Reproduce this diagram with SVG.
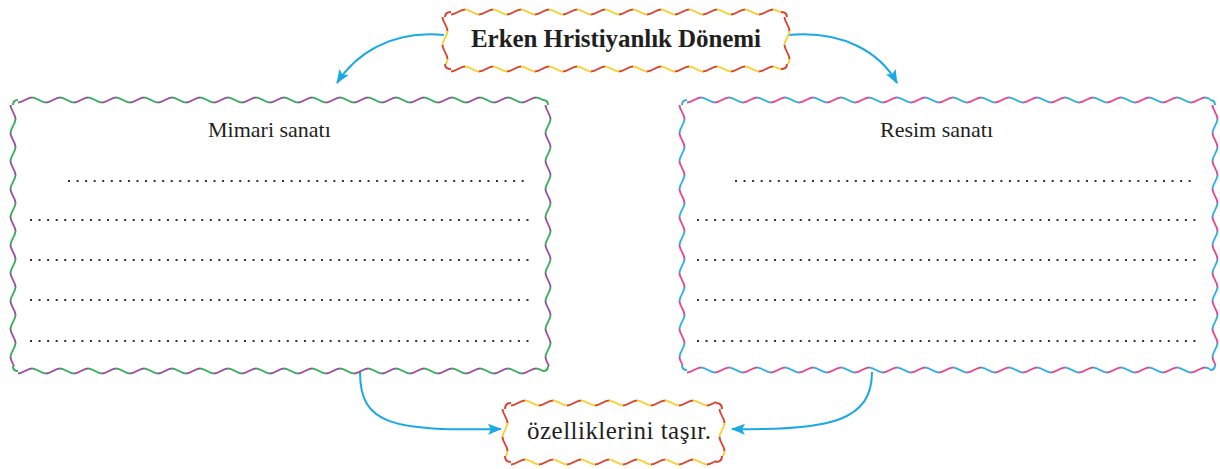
<svg xmlns="http://www.w3.org/2000/svg" width="1220" height="469" viewBox="0 0 1220 469">
<style>
.lbl{fill:#231f20}
.dots{stroke:#333;stroke-width:2;stroke-dasharray:2 6.56;fill:none}
.conn{stroke:#1ba9e6;stroke-width:2;fill:none;marker-end:url(#ah)}
.w{stroke-width:2;fill:none}
</style>
<defs>
<pattern id="pGP" patternUnits="userSpaceOnUse" width="28" height="10">
<path class="w" d="M0 7.5 C5 7.5 9 2.5 14 2.5" stroke="#9a4fa3"/>
<path class="w" d="M14 2.5 C19 2.5 23 7.5 28 7.5" stroke="#3aac5c"/>
</pattern>
<pattern id="pPB" patternUnits="userSpaceOnUse" width="28" height="10">
<path class="w" d="M0 7.5 C5 7.5 9 2.5 14 2.5" stroke="#e4468f"/>
<path class="w" d="M14 2.5 C19 2.5 23 7.5 28 7.5" stroke="#2cb0e4"/>
</pattern>
<pattern id="pRY" patternUnits="userSpaceOnUse" width="28" height="10">
<path class="w" d="M0 7.5 C5 7.5 9 2.5 14 2.5" stroke="#d9432f"/>
<path class="w" d="M14 2.5 C19 2.5 23 7.5 28 7.5" stroke="#f6cf2f"/>
</pattern>
<marker id="ah" markerUnits="userSpaceOnUse" markerWidth="16" markerHeight="13" refX="13" refY="5.5" orient="auto" overflow="visible">
<path d="M0 0 L14 5.5 L0 11 L3 5.5 Z" fill="#1ba9e6"/>
</marker>
</defs>

<g id="connectors">
<path class="conn" d="M444 35 C390 30 355 55 337 83"/>
<path class="conn" d="M788 35 C842 30 880 52 897 83"/>
<path class="conn" d="M360 372 C360 425 392 431 501 429"/>
<path class="conn" d="M872 372 C872 420 832 431 732 429"/>
</g>

<g id="node-top">
<rect x="445" y="11" width="342" height="59" rx="6" fill="#fff"/>
<rect width="330" height="10" fill="url(#pRY)" transform="translate(451,7)"/>
<rect width="330" height="10" fill="url(#pRY)" transform="translate(451,64)"/>
<rect width="47" height="10" fill="url(#pRY)" transform="translate(450,17) rotate(90)"/>
<rect width="47" height="10" fill="url(#pRY)" transform="translate(792,17) rotate(90)"/>
<path class="w" stroke="#d9432f" d="M445 17 Q445 12 451 12 M781 12 Q787 12 787 17 M445 64 Q445 69 451 69 M781 69 Q787 69 787 64"/>
<text class="lbl" x="616" y="47" font-family="Liberation Serif, Times New Roman, serif" font-size="25" font-weight="bold" text-anchor="middle" textLength="290">Erken Hristiyanlık Dönemi</text>
</g>

<g id="node-left">
<rect width="525" height="10" fill="url(#pGP)" transform="translate(18,95)"/>
<rect width="525" height="10" fill="url(#pGP)" transform="translate(18,366)"/>
<rect width="261" height="10" fill="url(#pGP)" transform="translate(18,105) rotate(90)"/>
<rect width="261" height="10" fill="url(#pGP)" transform="translate(553,105) rotate(90)"/>
<path class="w" stroke="#3aac5c" d="M13 105 Q13 100 18 100 M543 100 Q548 100 548 105 M13 366 Q13 371 18 371 M543 371 Q548 371 548 366"/>
<text class="lbl" x="208" y="137" font-family="Liberation Serif, Times New Roman, serif" font-size="22">Mimari sanatı</text>
<line class="dots" x1="68" y1="181" x2="530" y2="181"/>
<line class="dots" x1="30" y1="220" x2="530" y2="220"/>
<line class="dots" x1="30" y1="260" x2="530" y2="260"/>
<line class="dots" x1="30" y1="300" x2="530" y2="300"/>
<line class="dots" x1="30" y1="341" x2="530" y2="341"/>
</g>

<g id="node-right">
<rect width="523" height="10" fill="url(#pPB)" transform="translate(687,95)"/>
<rect width="523" height="10" fill="url(#pPB)" transform="translate(687,365)"/>
<rect width="260" height="10" fill="url(#pPB)" transform="translate(687,105) rotate(90)"/>
<rect width="260" height="10" fill="url(#pPB)" transform="translate(1220,105) rotate(90)"/>
<path class="w" stroke="#2cb0e4" d="M682 105 Q682 100 687 100 M1210 100 Q1215 100 1215 105 M682 365 Q682 370 687 370 M1210 370 Q1215 370 1215 365"/>
<text class="lbl" x="880" y="137" font-family="Liberation Serif, Times New Roman, serif" font-size="22">Resim sanatı</text>
<line class="dots" x1="735" y1="181" x2="1197" y2="181"/>
<line class="dots" x1="697" y1="220" x2="1197" y2="220"/>
<line class="dots" x1="697" y1="260" x2="1197" y2="260"/>
<line class="dots" x1="697" y1="300" x2="1197" y2="300"/>
<line class="dots" x1="697" y1="341" x2="1197" y2="341"/>
</g>

<g id="node-bottom">
<rect x="505" y="403" width="217" height="59" rx="6" fill="#fff"/>
<rect width="205" height="10" fill="url(#pRY)" transform="translate(511,398)"/>
<rect width="205" height="10" fill="url(#pRY)" transform="translate(511,457)"/>
<rect width="47" height="10" fill="url(#pRY)" transform="translate(510,409) rotate(90)"/>
<rect width="47" height="10" fill="url(#pRY)" transform="translate(727,409) rotate(90)"/>
<path class="w" stroke="#d9432f" d="M505 409 Q505 403 511 403 M716 403 Q722 403 722 409 M505 456 Q505 462 511 462 M716 462 Q722 462 722 456"/>
<text class="lbl" x="527" y="439" font-family="Liberation Serif, Times New Roman, serif" font-size="25" textLength="184">özelliklerini taşır.</text>
</g>
</svg>
